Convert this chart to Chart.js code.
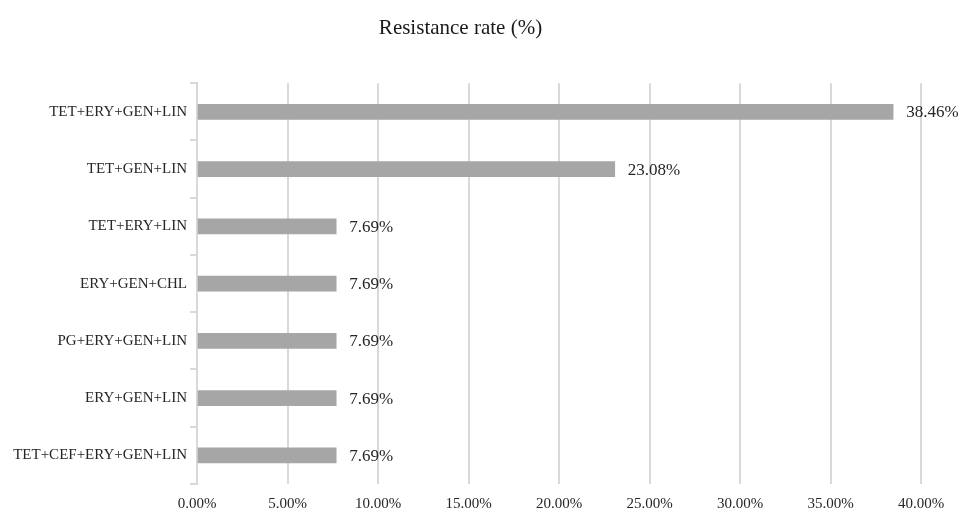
<!DOCTYPE html>
<html>
<head>
<meta charset="utf-8">
<script src="https://cdn.jsdelivr.net/npm/chart.js@4/dist/chart.umd.min.js"></script>
<style>
  html, body { margin: 0; padding: 0; background: #ffffff; }
  #wrap { width: 963px; height: 514px; }
</style>
</head>
<body>
<div id="wrap"><canvas id="chart" width="963" height="514"></canvas></div>
<script>
// Antibiotic resistance combinations and their rates (%)
const combinations = [
  "TET+ERY+GEN+LIN",
  "TET+GEN+LIN",
  "TET+ERY+LIN",
  "ERY+GEN+CHL",
  "PG+ERY+GEN+LIN",
  "ERY+GEN+LIN",
  "TET+CEF+ERY+GEN+LIN"
];
const resistanceRates = [38.46, 23.08, 7.69, 7.69, 7.69, 7.69, 7.69];
const xTickMax = 40;
const xTickStep = 5;

const serif = "'Liberation Serif', 'Times New Roman', serif";

// Writes the value with a percent sign just past the end of each bar
const valueLabels = {
  id: 'valueLabels',
  afterDatasetsDraw(chart) {
    const ctx = chart.ctx;
    const meta = chart.getDatasetMeta(0);
    ctx.save();
    ctx.font = "17px " + serif;
    ctx.fillStyle = "#262626";
    ctx.textAlign = "left";
    ctx.textBaseline = "middle";
    meta.data.forEach((bar, i) => {
      ctx.fillText(resistanceRates[i].toFixed(2) + "%", bar.x + 13, bar.y + 1);
    });
    ctx.restore();
  }
};

new Chart(document.getElementById('chart'), {
  type: 'bar',
  data: {
    labels: combinations,
    datasets: [{
      data: resistanceRates,
      backgroundColor: '#a6a6a6',
      borderWidth: 0,
      barThickness: 15
    }]
  },
  plugins: [valueLabels],
  options: {
    indexAxis: 'y',
    responsive: false,
    animation: false,
    layout: { padding: { left: 0, right: 42, top: 0, bottom: 0 } },
    plugins: {
      legend: { display: false },
      tooltip: { enabled: false },
      title: {
        display: true,
        text: 'Resistance rate (%)',
        color: '#1a1a1a',
        font: { family: serif, size: 21, weight: 'normal', lineHeight: 1.2 },
        padding: { top: 16, bottom: 42 }
      }
    },
    scales: {
      x: {
        min: 0,
        max: xTickMax,
        border: { display: false },
        grid: { color: '#d9d9d9', lineWidth: 2, drawTicks: false },
        ticks: {
          stepSize: xTickStep,
          padding: 11,
          color: '#262626',
          font: { family: serif, size: 15 },
          callback: (v) => Number(v).toFixed(2) + '%'
        },
        afterFit(scale) { scale.height = 30; }
      },
      y: {
        border: { display: true, color: '#d9d9d9', width: 2 },
        grid: { drawOnChartArea: false, color: '#d9d9d9', lineWidth: 2, tickLength: 7, offset: true },
        ticks: {
          padding: 3,
          color: '#262626',
          font: { family: serif, size: 15 }
        },
        afterFit(scale) { scale.width = 197; }
      }
    }
  }
});
</script>
</body>
</html>
